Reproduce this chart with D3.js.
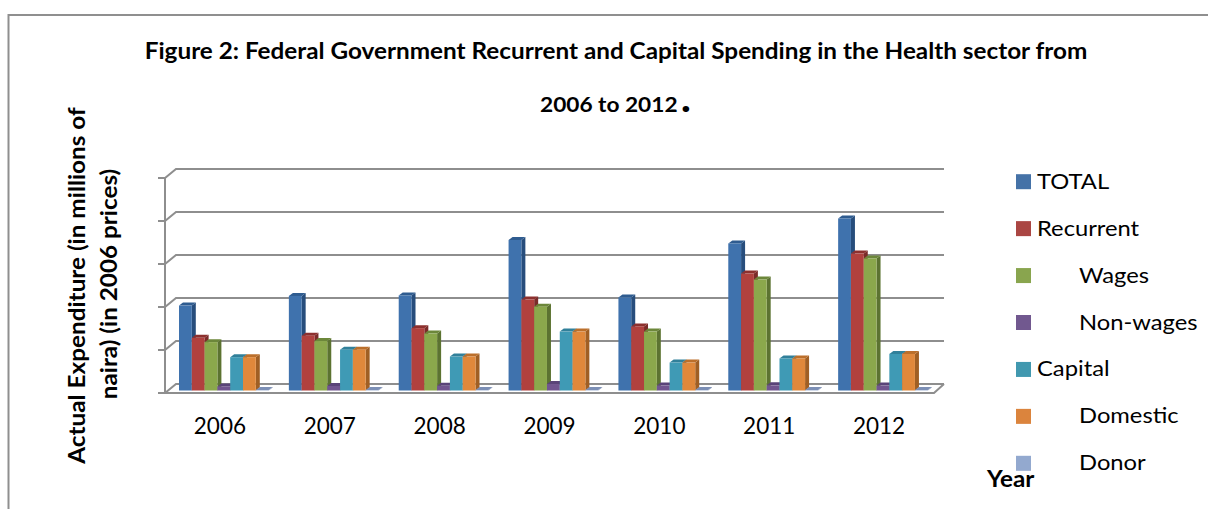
<!DOCTYPE html>
<html>
<head>
<meta charset="utf-8">
<script src="https://cdn.jsdelivr.net/npm/d3@7/dist/d3.min.js"></script>
<style>
  html, body { margin: 0; padding: 0; background: #fff; }
  svg { display: block; font-family: Lato, "Open Sans", sans-serif; }
</style>
</head>
<body>
<svg id="chart" width="1208" height="509"></svg>
<script>
// Health spending series, one value per year.
const years = ["2006", "2007", "2008", "2009", "2010", "2011", "2012"];
const total = [39.5, 44, 44.2, 70, 43.3, 68.4, 80];
const recurrent = [24.5, 25.5, 29, 42.3, 29.8, 54.4, 63.7];
const wages = [22.5, 23, 26.5, 39, 27.4, 51.6, 61.4];
const nonWages = [1.9, 2.1, 2.2, 3, 2.3, 2.4, 2.3];
const capital = [15.5, 19, 15.8, 27.4, 13, 14.9, 17];
const domestic = [15.5, 19, 15.8, 27.4, 13, 14.9, 17];
const donor = [0.2, 0.2, 0.2, 0.2, 0.2, 0.2, 0.2];
const gridTicks = [0, 20, 40, 60, 80, 100];

const seriesNames = ["TOTAL", "Recurrent", "Wages", "Non-wages", "Capital", "Domestic", "Donor"];
const seriesValues = [total, recurrent, wages, nonWages, capital, domestic, donor];
const seriesIndented = [false, false, true, true, false, true, true];
const legendColors = ["#4572a7", "#aa4643", "#89a54e", "#71588f", "#4198af", "#db843d", "#93a9cf"];
const frontColors = ["#3f72ad", "#b1413e", "#8ba84c", "#71558f", "#3f9ab5", "#e0883b", "#93a9cf"];
const sideColors = ["#274d7c", "#7a2b29", "#5c7331", "#4c3866", "#2a6b80", "#a05f24", "#6b7ea3"];
const topColors = ["#2f5c90", "#8d302e", "#6c873a", "#5a4478", "#31809a", "#bb6f2b", "#7c8fb5"];

const svg = d3.select("#chart");
const wallDx = 11, wallDy = -9;        // offset of the back wall from the front edge
const barDx = 4, barDy = -3;           // extrusion of each bar
const barLift = -2.5;                  // bars stand slightly inside the floor
const textStretch = 1.08;              // labels run slightly wide

const x = d3.scaleBand().domain(years).range([165, 934]);
const barX = d3.scaleBand().domain(seriesNames).range([14, 103.6]);
const y = d3.scaleLinear().domain([0, 100]).range([393, 178]);

// Places a widened label; rotate is in degrees around its anchor.
function wideText(parent, px, py, str, rotate = 0) {
  return parent.append("text")
    .attr("transform", `translate(${px},${py}) rotate(${rotate}) scale(${textStretch},1)`)
    .text(str);
}

// Outer frame, open on the right and at the bottom
svg.append("path")
  .attr("d", d3.line()([[8.5, 509], [8.5, 15], [1208, 15]]))
  .attr("fill", "none").attr("stroke", "#8f8f8f").attr("stroke-width", 2);

// Chart title
const title = svg.append("g").attr("font-weight", 700).attr("fill", "#000");
wideText(title, 616, 59, "Figure 2: Federal Government Recurrent and Capital Spending in the Health sector from")
  .attr("font-size", 22.5).attr("text-anchor", "middle");
const line2 = wideText(title, 540, 111.5, "").attr("font-size", 21);
line2.append("tspan").text("2006 to 2012");
line2.append("tspan").attr("font-size", 40).attr("dx", 3).text(".");

// Walls, floor and gridlines
const gridColor = "#8e8e8e";
const frame = svg.append("g").attr("fill", "none").attr("stroke", gridColor).attr("stroke-width", 2);
frame.append("g").selectAll("path").data(gridTicks).join("path")
  .attr("d", d => d3.line()([[158, y(d)], [165, y(d)], [165 + wallDx, y(d) + wallDy], [944, y(d) + wallDy]]));
frame.append("line").attr("x1", 165).attr("x2", 165).attr("y1", y(100)).attr("y2", y(0));
frame.append("path").attr("d", d3.line()([[165, y(0)], [934, y(0)], [944, y(0) + wallDy]]));

// Extruded bars, painted left to right so each front covers its neighbour's side
const bars = svg.append("g");
years.forEach((year, yi) => {
  seriesNames.forEach((name, si) => {
    const v = seriesValues[si][yi];
    const x0 = x(year) + barX(name);
    const x1 = x0 + barX.bandwidth();
    const yTop = y(v) + barLift;
    const yBase = y(0) + barLift;
    const g = bars.append("g");
    g.append("path").attr("fill", sideColors[si])
      .attr("d", d3.line()([[x1, yTop], [x1 + barDx, yTop + barDy], [x1 + barDx, yBase + barDy], [x1, yBase]]) + "Z");
    g.append("path").attr("fill", topColors[si])
      .attr("d", d3.line()([[x0, yTop], [x0 + barDx, yTop + barDy], [x1 + barDx, yTop + barDy], [x1, yTop]]) + "Z");
    g.append("rect").attr("fill", frontColors[si])
      .attr("x", x0).attr("y", yTop).attr("width", barX.bandwidth()).attr("height", yBase - yTop);
  });
});

// Year labels
svg.append("g").attr("text-anchor", "middle").attr("font-size", 22.5).attr("fill", "#000")
  .selectAll("text").data(years).join("text")
  .attr("x", d => x(d) + x.bandwidth() / 2).attr("y", 434).text(d => d);

// Axis titles
const yTitle = svg.append("g").attr("font-weight", 700).attr("font-size", 22.5).attr("text-anchor", "middle");
wideText(yTitle, 85, 285.5, "Actual Expenditure (in millions of", -90);
wideText(yTitle, 117, 284, "naira) (in 2006 prices)", -90);
wideText(svg.append("g").attr("font-weight", 700).attr("font-size", 22.5), 987, 487, "Year");

// Legend
const legendY = d3.scalePoint().domain(seriesNames).range([181.7, 463.3]);
const legend = svg.append("g").selectAll("g").data(seriesNames).join("g")
  .attr("transform", d => `translate(0,${legendY(d)})`);
legend.append("rect").attr("x", 1016).attr("y", -7.5).attr("width", 15).attr("height", 15)
  .attr("fill", (d, i) => legendColors[i]);
legend.append("text").attr("font-size", 22).attr("fill", "#000")
  .attr("transform", (d, i) => `translate(${seriesIndented[i] ? 1079 : 1037},7) scale(${textStretch},1)`)
  .text(d => d);
</script>
</body>
</html>
